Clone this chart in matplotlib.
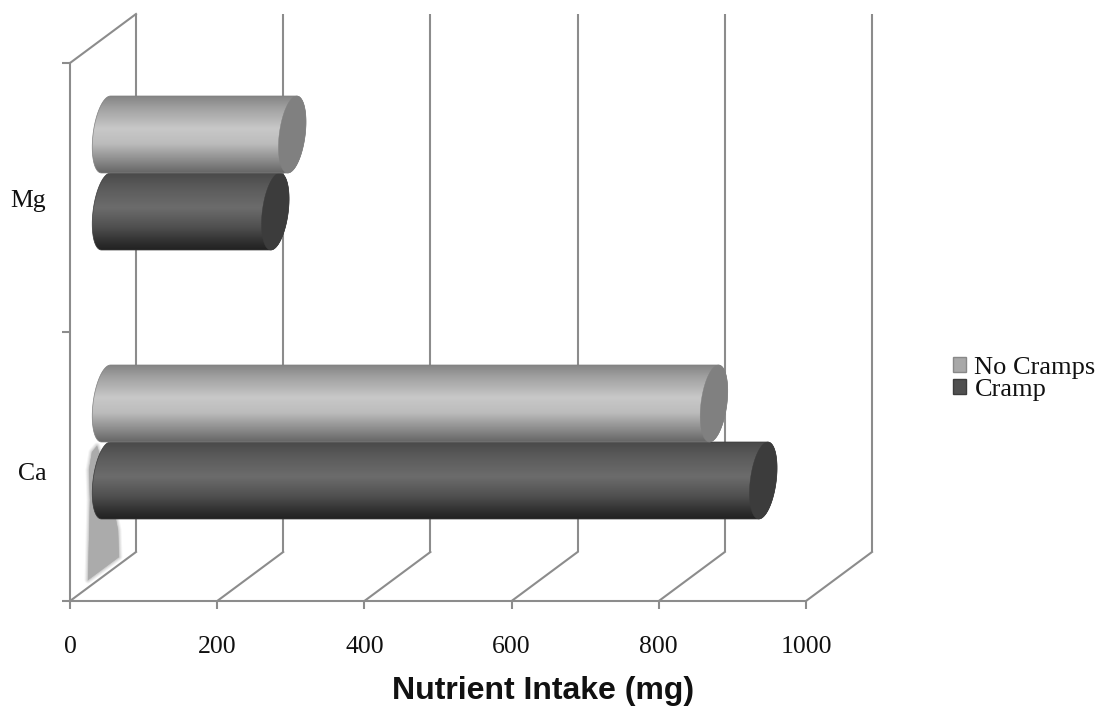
import numpy as np
import matplotlib
matplotlib.use("Agg")
import matplotlib.pyplot as plt
from matplotlib.colors import LinearSegmentedColormap
from matplotlib.patches import Polygon, Patch
from matplotlib.transforms import ScaledTranslation, IdentityTransform

# Data
categories = ["Ca", "Mg"]
series_names = ["No Cramps", "Cramp"]
no_cramps = [826, 253]
cramp = [893, 230]
x_ticks = [0, 200, 400, 600, 800, 1000]

W, H = 1104, 708
fig = plt.figure(figsize=(W / 100, H / 100), dpi=100, facecolor="white")
ax = fig.add_axes([70 / W, 1 - 601 / H, 736 / W, 538 / H])
ax.set_xlim(0, 1000)
ax.set_ylim(0, len(categories))

GREY = "#8c8c8c"
SERIF = "Liberation Serif"
PXX = 1000 / 736
PXY = len(categories) / 538

wall = ax.transData + ScaledTranslation(66 / 100, 49 / 100, fig.dpi_scale_trans)
mid = ax.transData + ScaledTranslation(36 / 100, 24.5 / 100, fig.dpi_scale_trans)

# Walls and floor of the 3D frame
for xv in x_ticks:
    ax.plot([xv, xv], [0, len(categories)], color=GREY, lw=1.5, transform=wall,
            clip_on=False, zorder=1, solid_capstyle="butt")
    ax.plot([xv, xv + 66 * PXX], [0, 49 * PXY], color=GREY, lw=1.5, clip_on=False, zorder=1)
ax.plot([0, 66 * PXX], [len(categories), len(categories) + 49 * PXY], color=GREY, lw=1.5,
        clip_on=False, zorder=1)

# Scanning smudge behind the Ca bars
smudge = np.array([[97, 446], [92, 452], [89, 470], [90, 500], [89, 540], [88, 580], [119, 557],
                   [118, 530], [112, 500], [105, 470]], float)
smudge[:, 1] = H - smudge[:, 1]
for lw_, a_ in [(5, 0.12), (3.5, 0.2), (2, 0.3), (0.5, 0.5), (0, 1.0)]:
    ax.add_patch(Polygon(smudge, closed=True, facecolor="#ababab", edgecolor="#ababab",
                         lw=lw_, alpha=a_, transform=IdentityTransform(), zorder=1.5, clip_on=False,
                         joinstyle="round"))

light = LinearSegmentedColormap.from_list("l", [(0, "#858585"), (0.15, "#a0a0a0"), (0.42, "#c8c8c8"),
                                                (0.62, "#bcbcbc"), (0.85, "#888888"), (1, "#666666")])
dark = LinearSegmentedColormap.from_list("d", [(0, "#4a4a4a"), (0.2, "#5c5c5c"), (0.45, "#6c6c6c"),
                                               (0.7, "#505050"), (0.92, "#2c2c2c"), (1, "#222222")])
grad = np.linspace(0, 1, 200)[:, None]

A, B, S = 13 * PXX, 38.5 * PXY, 4.5 * PXX


def ring(cx, cy, t):
    return np.column_stack([cx + A * np.cos(t) + S * np.sin(t), cy + B * np.sin(t)])


def cylinder(value, yc, cmap, cap, edge, z):
    left = ring(0, yc, np.linspace(np.pi / 2, 3 * np.pi / 2, 40))
    right = ring(value, yc, np.linspace(-np.pi / 2, np.pi / 2, 40))
    body = Polygon(np.vstack([left, right]), closed=True, transform=mid, facecolor="none",
                   edgecolor=edge, lw=0.5, zorder=z + 0.1, clip_on=False)
    ax.add_patch(body)
    im = ax.imshow(grad, cmap=cmap, aspect="auto", extent=[-2 * A, value + 2 * A, yc - B, yc + B],
                   zorder=z, vmin=0, vmax=1, clip_on=True, interpolation="bilinear")
    im.set_transform(mid)
    im.set_clip_path(body)
    ax.add_patch(Polygon(ring(value, yc, np.linspace(0, 2 * np.pi, 80)), closed=True, transform=mid,
                         facecolor=cap, edgecolor=cap, lw=0.3, zorder=z + 0.2, clip_on=False))


for i in range(len(categories)):
    yc = i + 0.5
    cylinder(cramp[i], yc - B, dark, "#3c3c3c", "#3a3a3a", 2 + i)
    cylinder(no_cramps[i], yc + B, light, "#808080", "#808080", 2.5 + i)

ax.set_xlim(0, 1000)
ax.set_ylim(0, len(categories))

# Axes
for s in ("top", "right"):
    ax.spines[s].set_visible(False)
for s in ("left", "bottom"):
    ax.spines[s].set_color(GREY)
    ax.spines[s].set_linewidth(1.5)
ax.patch.set_alpha(0)
ax.set_xticks(x_ticks)
ax.set_xticklabels([str(v) for v in x_ticks], family=SERIF, fontsize=18.5, color="#111111")
ax.tick_params(axis="x", length=5.8, width=1.5, color=GREY, pad=19.5)
ax.set_yticks(range(len(categories) + 1))
ax.set_yticklabels([])
ax.tick_params(axis="y", length=5.8, width=1.5, color=GREY)
label_shift = [5.5 * PXY, 1.5 * PXY]
ax.set_yticks([i + 0.5 - label_shift[i] for i in range(len(categories))], minor=True)
ax.set_yticklabels(categories, minor=True, family=SERIF, fontsize=18.5, color="#111111")
ax.tick_params(axis="y", which="minor", length=0, pad=17)

ax.set_xlabel("Nutrient Intake (mg)", family="Liberation Sans", fontweight="bold", fontsize=23,
              color="#111111")
ax.xaxis.set_label_coords((543 - 70) / 736, -(691 - 601) / 538, transform=ax.transAxes)
ax.xaxis.label.set_verticalalignment("center")

handles = [Patch(facecolor="#a8a8a8", edgecolor="#888888", label=series_names[0]),
           Patch(facecolor="#505050", edgecolor="#3c3c3c", label=series_names[1])]
fig.legend(handles=handles, loc="center left", bbox_to_anchor=(948 / W, 1 - 379 / H), frameon=False,
           prop={"family": SERIF, "size": 19}, handlelength=0.5, handleheight=0.5,
           handletextpad=0.3, labelspacing=0.0, borderpad=0.2, borderaxespad=0, labelcolor="#111111")

fig.savefig("out.png", dpi=100, facecolor="white")
